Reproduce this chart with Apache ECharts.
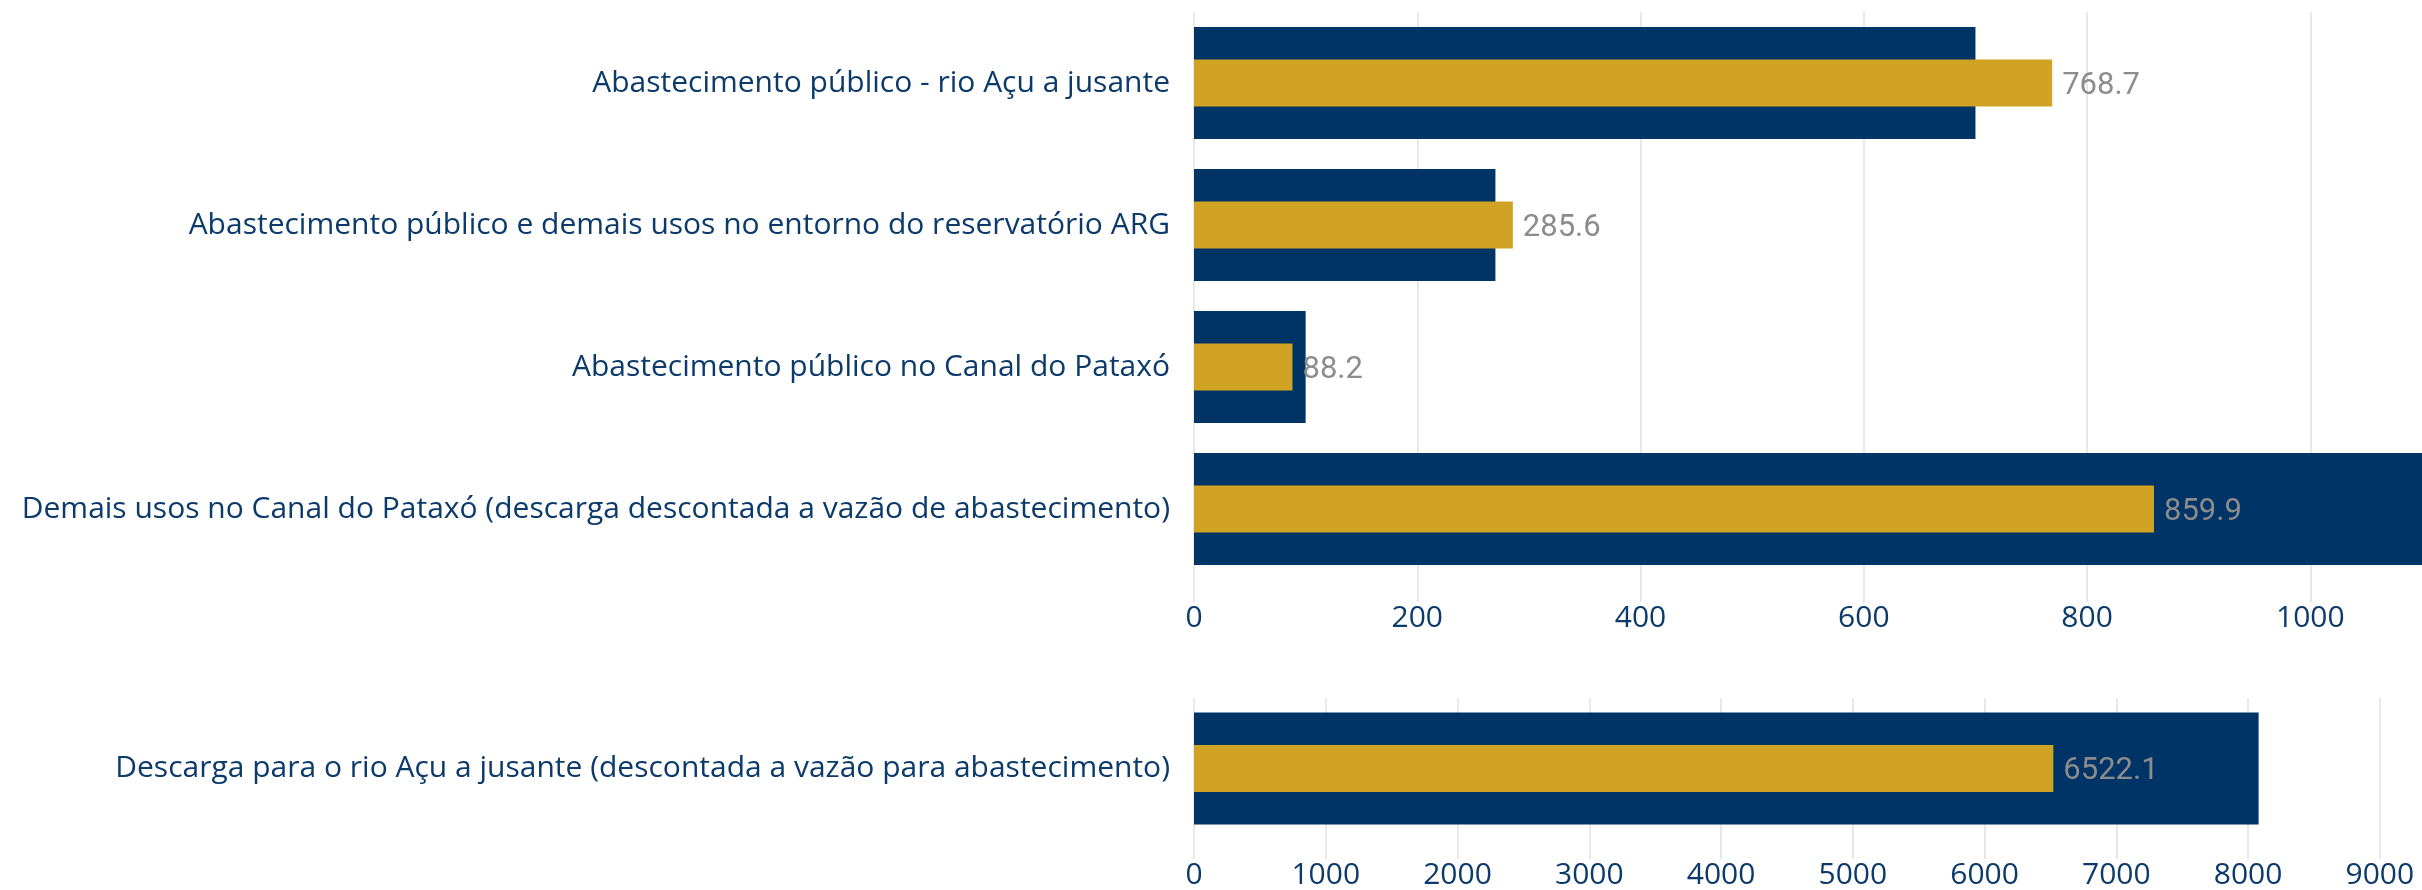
<!DOCTYPE html>
<html>
<head>
<meta charset="UTF-8">
<title></title>
<script src="https://cdn.jsdelivr.net/npm/echarts@6/dist/echarts.min.js"></script>
<style>
  html, body { margin: 0; padding: 0; background: #fff; }
  #chart { width: 2422px; height: 890px; }
</style>
</head>
<body>
<div id="chart"></div>
<script>
// upper block: uses
var topCategories = [
  'Abastecimento público - rio Açu a jusante',
  'Abastecimento público e demais usos no entorno do reservatório ARG',
  'Abastecimento público no Canal do Pataxó',
  'Demais usos no Canal do Pataxó (descarga descontada a vazão de abastecimento)'
];
var topNavy = [700, 270, 100, 1100];
var topGold = [768.7, 285.6, 88.2, 859.9];

// lower block: discharge
var bottomCategories = ['Descarga para o rio Açu a jusante (descontada a vazão para abastecimento)'];
var bottomNavy = [8080];
var bottomGold = [6522.1];

var navy = '#003366';
var gold = '#d1a325';
var textNavy = '#0b3a6b';
var gridColor = '#e8e8e8';

var chart = echarts.init(document.getElementById('chart'));

function catAxis(grid, data, show) {
  return {
    type: 'category',
    gridIndex: grid,
    data: data,
    inverse: true,
    show: show,
    axisLine: { show: false },
    axisTick: { show: false },
    axisLabel: {
      color: textNavy,
      fontFamily: 'Open Sans',
      fontSize: 30,
      margin: 24
    }
  };
}

function valAxis(grid, max, interval, tickLen) {
  return {
    type: 'value',
    gridIndex: grid,
    min: 0,
    max: max,
    interval: interval,
    axisLine: { show: false },
    axisTick: { show: true, length: tickLen, lineStyle: { color: gridColor, width: 2 } },
    splitLine: { show: true, showMaxLine: false, lineStyle: { color: gridColor, width: 2 } },
    axisLabel: {
      color: textNavy,
      fontFamily: 'Open Sans',
      fontSize: 30,
      margin: tickLen + 1,
      showMaxLabel: false,
      formatter: function (v) { return String(v); }
    }
  };
}

var valueLabel = {
  show: true,
  position: 'right',
  distance: 10,
  offset: [0, 3],
  color: '#8c8c8c',
  fontFamily: 'Roboto',
  fontSize: 31
};

chart.setOption({
  animation: false,
  grid: [
    { left: 1194, right: 0, top: 12, height: 568 },
    { left: 1194, right: 0, top: 698, height: 142 }
  ],
  xAxis: [
    valAxis(0, 1100, 200, 22),
    valAxis(1, 9320, 1000, 20)
  ],
  yAxis: [
    catAxis(0, topCategories, true),
    catAxis(0, topCategories, false),
    catAxis(1, bottomCategories, true),
    catAxis(1, bottomCategories, false)
  ],
  series: [
    { type: 'bar', xAxisIndex: 0, yAxisIndex: 0, data: topNavy, barWidth: 112,
      itemStyle: { color: navy }, silent: true },
    { type: 'bar', xAxisIndex: 0, yAxisIndex: 1, data: topGold, barWidth: 47,
      itemStyle: { color: gold }, label: valueLabel, silent: true },
    { type: 'bar', xAxisIndex: 1, yAxisIndex: 2, data: bottomNavy, barWidth: 112,
      itemStyle: { color: navy }, silent: true },
    { type: 'bar', xAxisIndex: 1, yAxisIndex: 3, data: bottomGold, barWidth: 47,
      itemStyle: { color: gold }, label: valueLabel, silent: true }
  ]
});
</script>
</body>
</html>
